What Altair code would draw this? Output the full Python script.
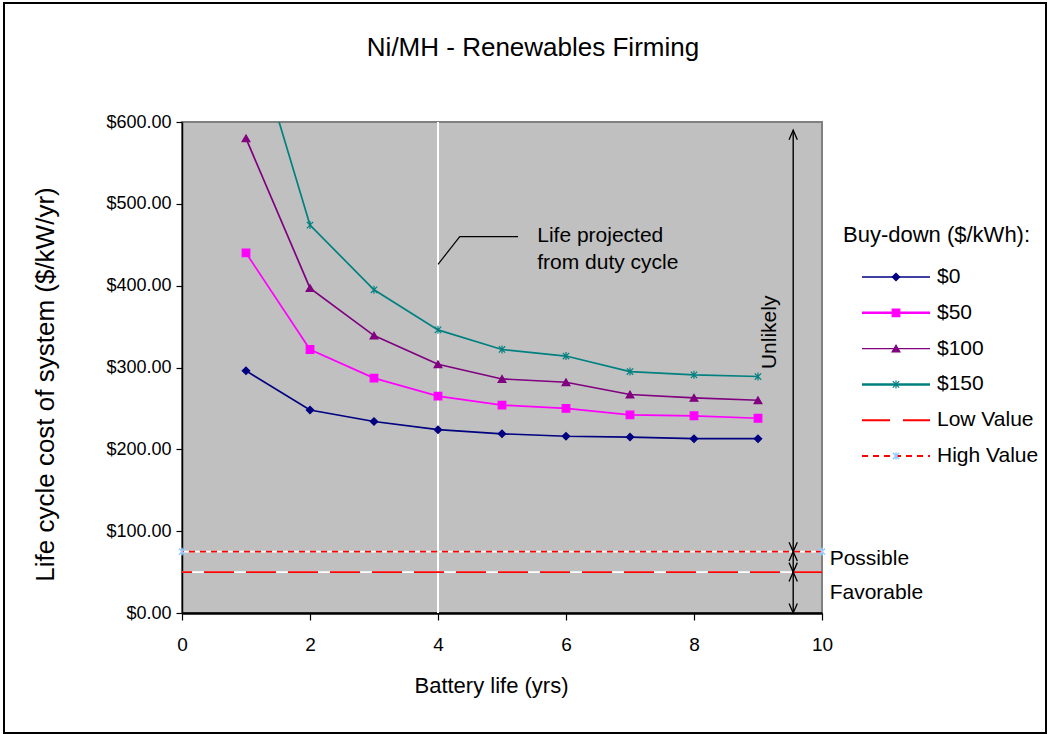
import altair as alt
import pandas as pd

# ---------------- data ----------------
battery_life = [1, 2, 3, 4, 5, 6, 7, 8, 9]
buydown_labels = ["$0", "$50", "$100", "$150"]
cost_buydown_0 = [296, 248, 234, 224, 219, 216, 215, 213, 213]
cost_buydown_50 = [440, 322, 287, 265, 254, 250, 242, 241, 238]
cost_buydown_100 = [580, 397, 339, 304, 286, 282, 267, 263, 260]
cost_buydown_150 = [735, 474, 395, 346, 322, 314, 295, 291, 289]

value_labels = ["Low Value", "High Value"]
value_levels = [50, 75]
value_span = [0, 10]

x_tick_values = [0, 2, 4, 6, 8, 10]
y_tick_values = [0, 100, 200, 300, 400, 500, 600]

projected_life = [4]
projected_text = ["Life projected", "from duty cycle"]

zone_labels = ["Unlikely", "Possible", "Favorable"]
zone_low = [75, 50, 0]
zone_high = [590, 75, 50]

chart_title = "Ni/MH - Renewables Firming"
legend_title = "Buy-down ($/kWh):"

# ---------------- tables ----------------
series_df = pd.DataFrame({
    "x": battery_life * 4,
    "y": cost_buydown_0 + cost_buydown_50 + cost_buydown_100 + cost_buydown_150,
    "series": sum([[s] * len(battery_life) for s in buydown_labels], []),
})
ref_df = pd.DataFrame({"series": value_labels, "y": value_levels})
high_marks_df = pd.DataFrame({"x": value_span, "y": [value_levels[1]] * 2})
proj_df = pd.DataFrame({"x": projected_life})

ZONE_X = 9.55
zone_df = pd.DataFrame({"zone": zone_labels, "lo": zone_low, "hi": zone_high,
                        "x": [ZONE_X] * 3})

# annotation anchors (data units)
leader_df = pd.DataFrame({"x": [4.0, 4.34, 5.25], "y": [426, 460, 460], "o": [0, 1, 2]})
proj_text_df = pd.DataFrame({"x": [5.55, 5.55], "y": [461, 428], "t": projected_text})
zone_text_df = pd.DataFrame({"x": [10.12, 10.12], "y": [66, 25], "t": zone_labels[1:]})
unlikely_df = pd.DataFrame({"x": [9.19], "y": [343], "t": zone_labels[:1]})

# ---------------- styling ----------------
FONT = "Liberation Sans"
all_names = buydown_labels + value_labels
colors = ["#000080", "#FF00FF", "#800080", "#008080", "#FF0000", "#FF0000"]
color_scale = alt.Scale(domain=all_names, range=colors)
ASTER = "M-0.8,-0.8L0.8,0.8M-0.8,0.8L0.8,-0.8M0,-1L0,1"
shape_scale = alt.Scale(domain=buydown_labels,
                        range=["diamond", "square", "triangle-up", ASTER])
size_scale = alt.Scale(domain=buydown_labels, range=[55, 64, 70, 50])
dash_scale = alt.Scale(domain=value_labels, range=[[30, 12], [6, 5]])
UP = "M-0.7,1.6L0,0L0.7,1.6"
DOWN = "M-0.7,-1.6L0,0L0.7,-1.6"

xscale = alt.Scale(domain=[0, 10], nice=False, zero=False)
yscale = alt.Scale(domain=[0, 600], nice=False)
xaxis = alt.Axis(values=x_tick_values, title="Battery life (yrs)", grid=False,
                 domainColor="black", domainWidth=2.5, tickColor="black",
                 tickSize=7, tickWidth=1.2, labelFontSize=19, labelColor="black",
                 labelPadding=15, labelFont=FONT, titleFont=FONT,
                 titleFontSize=22, titleFontWeight="normal", titleColor="black",
                 titlePadding=21, titleX=309, labelFlush=False)
yaxis = alt.Axis(values=y_tick_values, format="$,.2f",
                 title="Life cycle cost of system ($/kW/yr)", grid=False,
                 domainColor="black", domainWidth=1.5, tickColor="black",
                 tickSize=6, tickWidth=1.2, labelFontSize=18, labelColor="black",
                 labelPadding=5, labelFont=FONT, titleFont=FONT,
                 titleFontSize=26, titleFontWeight="normal", titleColor="black",
                 titleX=-137, titleY=262, titleBaseline="middle", labelFlush=False)


def X(f):
    return alt.X(f"{f}:Q", scale=xscale, axis=xaxis)


def Y(f):
    return alt.Y(f"{f}:Q", scale=yscale, axis=yaxis)


color_enc = alt.Color("series:N", scale=color_scale, legend=None)

# ---------------- layers ----------------
proj_rule = alt.Chart(proj_df).mark_rule(color="white", strokeWidth=2).encode(x=X("x"))

ref_under = alt.Chart(ref_df).mark_rule(color="white", strokeWidth=1.6).encode(y=Y("y"))
ref_over = alt.Chart(ref_df).mark_rule(strokeWidth=1.8).encode(
    y=Y("y"), color=color_enc,
    strokeDash=alt.StrokeDash("series:N", scale=dash_scale, legend=None))

lines = alt.Chart(series_df).mark_line(clip=True, strokeWidth=1.7).encode(
    x=X("x"), y=Y("y"), color=color_enc)

points = alt.Chart(series_df).mark_point(filled=True, clip=True, strokeWidth=1.2, opacity=1).encode(
    x=X("x"), y=Y("y"), color=color_enc,
    stroke=alt.Stroke("series:N", scale=color_scale, legend=None),
    shape=alt.Shape("series:N", scale=shape_scale, legend=None),
    size=alt.Size("series:N", scale=size_scale, legend=None))

high_marks = alt.Chart(high_marks_df).mark_point(
    shape=ASTER, color="#99CCFF", size=60, strokeWidth=1.5, opacity=1).encode(
    x=X("x"), y=Y("y"))

zone_rule = alt.Chart(zone_df).mark_rule(color="black", strokeWidth=1.4).encode(
    x=X("x"), y=Y("lo"), y2=alt.Y2("hi"))
zone_up = alt.Chart(zone_df).mark_point(shape=UP, color="black", size=140,
                                        strokeWidth=1.3, opacity=1).encode(x=X("x"), y=Y("hi"))
zone_down = alt.Chart(zone_df).mark_point(shape=DOWN, color="black", size=140,
                                          strokeWidth=1.3, opacity=1).encode(x=X("x"), y=Y("lo"))

zone_text = alt.Chart(zone_text_df).mark_text(
    align="left", baseline="middle", fontSize=21, font=FONT, color="black").encode(
    x=X("x"), y=Y("y"), text="t:N")
unlikely_text = alt.Chart(unlikely_df).mark_text(
    align="center", baseline="middle", angle=270, fontSize=21, font=FONT,
    color="black").encode(x=X("x"), y=Y("y"), text="t:N")

leader = alt.Chart(leader_df).mark_line(color="black", strokeWidth=1.2).encode(
    x=X("x"), y=Y("y"), order="o:Q")
proj_text = alt.Chart(proj_text_df).mark_text(
    align="left", baseline="middle", fontSize=21, font=FONT, color="black").encode(
    x=X("x"), y=Y("y"), text="t:N")

# ---------------- manual legend (pixel offsets from plot origin) ----------------
LEG_X_LINE0, LEG_X_LINE1, LEG_X_MARK, LEG_X_TEXT = 680, 748, 714, 755
LEG_Y0, LEG_DY = 155, 35.8
legend_layers = []
legend_layers.append(
    alt.Chart(pd.DataFrame({"t": [legend_title]})).mark_text(
        align="left", baseline="middle", fontSize=22, font=FONT, color="black").encode(
        x=alt.value(661), y=alt.value(113), text="t:N"))
leg_width = {"$0": 1.3, "$50": 2.5, "$100": 1.3, "$150": 2.5, "Low Value": 2, "High Value": 1.8}
leg_dash = {"Low Value": [28, 13], "High Value": [6, 5]}
for i, name in enumerate(all_names):
    ly = LEG_Y0 + i * LEG_DY
    d = pd.DataFrame({"series": [name]})
    rule_kw = dict(strokeWidth=leg_width[name])
    if name in leg_dash:
        rule_kw["strokeDash"] = leg_dash[name]
    legend_layers.append(alt.Chart(d).mark_rule(**rule_kw).encode(
        x=alt.value(LEG_X_LINE0), x2=alt.value(LEG_X_LINE1), y=alt.value(ly), color=color_enc))
    if name in buydown_labels:
        legend_layers.append(alt.Chart(d).mark_point(filled=True, strokeWidth=1.2, opacity=1).encode(
            x=alt.value(LEG_X_MARK), y=alt.value(ly), color=color_enc,
            stroke=alt.Stroke("series:N", scale=color_scale, legend=None),
            shape=alt.Shape("series:N", scale=shape_scale, legend=None),
            size=alt.Size("series:N", scale=size_scale, legend=None)))
    elif name == "High Value":
        legend_layers.append(alt.Chart(d).mark_point(shape=ASTER, color="#99CCFF", size=60,
                                                     strokeWidth=1.5, opacity=1).encode(
            x=alt.value(LEG_X_MARK), y=alt.value(ly)))
    legend_layers.append(alt.Chart(d).mark_text(
        align="left", baseline="middle", fontSize=21, font=FONT, color="black").encode(
        x=alt.value(LEG_X_TEXT), y=alt.value(ly), text="series:N"))

title_layer = alt.Chart(pd.DataFrame({"t": [chart_title]})).mark_text(
    align="center", baseline="middle", fontSize=26, font=FONT, color="black").encode(
    x=alt.value(351), y=alt.value(-74), text="t:N")

frame = alt.Chart(pd.DataFrame({"k": [0]})).mark_rect(
    fill="white", fillOpacity=0, stroke="black", strokeWidth=2).encode(
    x=alt.value(-178), x2=alt.value(864), y=alt.value(-119), y2=alt.value(611))

chart = alt.layer(
    proj_rule, ref_under, ref_over, lines, points, high_marks,
    zone_rule, zone_up, zone_down, zone_text, unlikely_text,
    leader, proj_text, *legend_layers, title_layer, frame,
).properties(
    width=640, height=491,
    autosize=alt.AutoSizeParams(type="none"),
    padding={"left": 182, "top": 122, "right": 227, "bottom": 121},
    background="white",
).configure(font=FONT).configure_view(
    fill="#C0C0C0", stroke="#808080", strokeWidth=2)

chart.save("out.html", embed_options={"renderer": "svg", "actions": False})
